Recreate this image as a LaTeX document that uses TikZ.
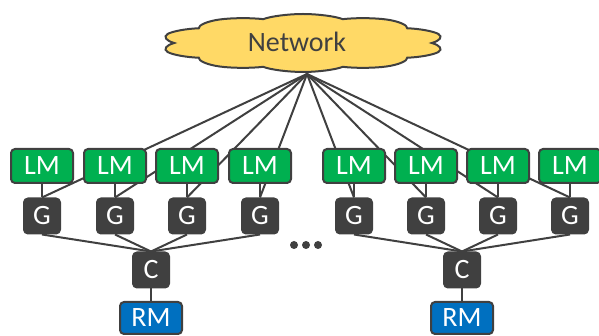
\documentclass[tikz,border=0pt]{standalone}
\usepackage{fontspec}
\setmainfont{Carlito}
\usepackage{tikz}
\usetikzlibrary{shapes.symbols,positioning,backgrounds,calc}
\definecolor{verde}{HTML}{00B050}
\definecolor{gris}{HTML}{404040}
\definecolor{azul}{HTML}{0070C0}
\definecolor{amarillo}{HTML}{FFD966}
\tikzset{
  caja/.style={draw=gris,rounded corners=4pt,line width=2pt,text=white,font=\fontsize{28}{28}\selectfont,inner sep=0pt},
  cajalm/.style={caja,fill=verde,minimum width=62pt,minimum height=34pt},
  cajag/.style={caja,fill=gris,minimum width=36pt,minimum height=35pt},
  cajarm/.style={caja,fill=azul,minimum width=62pt,minimum height=32pt},
  nube/.style={cloud,cloud puffs=10,cloud puff arc=120,aspect=1,draw=gris,fill=amarillo,line width=2pt,minimum width=64pt,minimum height=58pt,xscale=4.45,transform shape},
  texto/.style={text=gris,font=\fontsize{28}{28}\selectfont,inner sep=0pt},
  linea/.style={gris,line width=2pt},
  punto/.style={circle,fill=gris,inner sep=0pt,minimum size=8pt},
}
\begin{document}
\begin{tikzpicture}[x=1pt,y=1pt]
  \useasboundingbox (0,0) rectangle (599,336);
  % red
  \node[nube] (nube) at (303,293) {};
  \node[texto] (net) at (297,294) {Network};
  \coordinate (hub) at (307,262);
  % nodos LM y G
  \foreach \i/\x in {1/42,2/115,3/187,4/260,5/354,6/426,7/498,8/570} {
    \node[cajalm] (lm\i) at (\x,170) {LM};
    \node[cajag] (g\i) at (\x,120) {G};
  }
  % C y RM
  \node[cajag] (c1) at (151,66) {C};
  \node[cajag] (c2) at (462,66) {C};
  \node[cajarm] (rm1) at (151,18) {RM};
  \node[cajarm] (rm2) at (462,18) {RM};
  % puntos
  \node[punto] (p1) at (294,91) {};
  \node[punto] (p2) at (306,91) {};
  \node[punto] (p3) at (318,91) {};
  \begin{scope}[on background layer]
    \foreach \i in {1,...,8} {
      \draw[linea] (hub) -- (g\i.north);
      \draw[linea] (lm\i.south) -- (g\i.north);
    }
    \foreach \i in {1,...,4} \draw[linea] (g\i.south) -- (c1.north);
    \foreach \i in {5,...,8} \draw[linea] (g\i.south) -- (c2.north);
    \draw[linea] (c1.south) -- (rm1.north);
    \draw[linea] (c2.south) -- (rm2.north);
  \end{scope}
\end{tikzpicture}
\end{document}
